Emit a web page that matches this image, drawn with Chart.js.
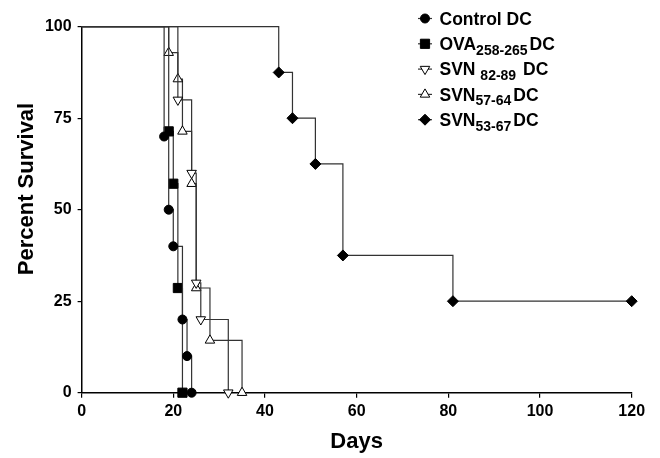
<!DOCTYPE html>
<html>
<head>
<meta charset="utf-8">
<script src="https://cdn.jsdelivr.net/npm/chart.js@4.4.0/dist/chart.umd.min.js"></script>
<style>
  html, body { margin: 0; padding: 0; background: #fff; }
  #wrap { width: 660px; height: 458px; }
</style>
</head>
<body>
<div id="wrap"><canvas id="survival" width="660" height="458"></canvas></div>
<script>
// Kaplan-Meier curves: day of death vs percent of mice still alive
const controlDays = [0, 18, 19, 20, 22, 23, 24];
const controlSurv = [100, 70, 50, 40, 20, 10, 0];
const ovaDays = [0, 19, 20, 21, 22];
const ovaSurv = [100, 71.4, 57.1, 28.6, 0];
const svn8289Days = [0, 21, 24, 25, 26, 32];
const svn8289Surv = [100, 80, 60, 30, 20, 0];
const svn5764Days = [0, 19, 21, 22, 24, 25, 28, 35];
const svn5764Surv = [100, 92.9, 85.7, 71.4, 57.1, 28.6, 14.3, 0];
const svn5367Days = [0, 43, 46, 51, 57, 81, 120];
const svn5367Surv = [100, 87.5, 75, 62.5, 37.5, 25, 25];

// legend labels are split so the peptide range can be set as a subscript
const legendMain = ["Control DC", "OVA", "SVN ", "SVN", "SVN"];
const legendSub = ["", "258-265", "82-89", "57-64", "53-67"];
const legendTail = ["", "DC", " DC", "DC", "DC"];

const xTicks = [0, 20, 40, 60, 80, 100, 120];
const yTicks = [0, 25, 50, 75, 100];

const FONT = "'Liberation Sans', Arial, Helvetica, sans-serif";

const markers = [
  { pointStyle: "circle", radius: 4.5, fill: "#000", rotation: 0 },
  { pointStyle: "rect", radius: 6.5, fill: "#000", rotation: 0 },
  { pointStyle: "triangle", radius: 5.5, fill: "#fff", rotation: 180 },
  { pointStyle: "triangle", radius: 5.5, fill: "#fff", rotation: 0 },
  { pointStyle: "rectRot", radius: 5.5, fill: "#000", rotation: 0 }
];

function toPoints(days, surv) {
  return days.map((d, i) => ({ x: d, y: surv[i] }));
}

const series = [
  toPoints(controlDays, controlSurv),
  toPoints(ovaDays, ovaSurv),
  toPoints(svn8289Days, svn8289Surv),
  toPoints(svn5764Days, svn5764Surv),
  toPoints(svn5367Days, svn5367Surv)
];

const datasets = series.map((pts, i) => ({
  label: legendMain[i] + legendSub[i] + legendTail[i],
  data: pts,
  stepped: "before",
  borderColor: "#333",
  borderWidth: 1.2,
  fill: false,
  clip: false,
  pointStyle: markers[i].pointStyle,
  rotation: markers[i].rotation,
  pointRadius: (ctx) => (ctx.dataIndex === 0 ? 0 : markers[i].radius),
  pointBackgroundColor: markers[i].fill,
  pointBorderColor: "#000",
  pointBorderWidth: 1
}));

// legend with subscripts plus the two axis titles
const decorations = {
  id: "decorations",
  afterDraw(chart) {
    const ctx = chart.ctx;
    ctx.save();
    ctx.fillStyle = "#000";
    ctx.textBaseline = "alphabetic";

    const lx = 425, tx = 439.5;
    for (let i = 0; i < legendMain.length; i++) {
      const y = 18.5 + i * 25.3;
      ctx.strokeStyle = "#333";
      ctx.lineWidth = 1.2;
      ctx.beginPath();
      ctx.moveTo(lx - 7, y);
      ctx.lineTo(lx + 7, y);
      ctx.stroke();
      ctx.fillStyle = markers[i].fill;
      ctx.strokeStyle = "#000";
      ctx.lineWidth = 1;
      Chart.helpers.drawPoint(ctx, {
        pointStyle: markers[i].pointStyle,
        rotation: markers[i].rotation,
        radius: markers[i].radius,
        borderWidth: 1
      }, lx, y);

      ctx.fillStyle = "#000";
      const base = y + 6.3;
      let x = tx;
      ctx.font = "bold 17.5px " + FONT;
      ctx.fillText(legendMain[i], x, base);
      x += ctx.measureText(legendMain[i]).width;
      if (legendSub[i]) {
        ctx.font = "bold 14px " + FONT;
        ctx.fillText(legendSub[i], x, base + 4.5);
        x += ctx.measureText(legendSub[i]).width + 2;
        ctx.font = "bold 17.5px " + FONT;
        ctx.fillText(legendTail[i], x, base);
      }
    }

    ctx.font = "bold 22px " + FONT;
    ctx.textAlign = "center";
    ctx.fillText("Days", (chart.chartArea.left + chart.chartArea.right) / 2, 448);

    ctx.translate(33, 189);
    ctx.rotate(-Math.PI / 2);
    ctx.fillText("Percent Survival", 0, 0);
    ctx.restore();
  }
};

const tickFont = { family: FONT, size: 16, weight: "bold" };

new Chart(document.getElementById("survival"), {
  type: "line",
  data: { datasets },
  plugins: [decorations],
  options: {
    responsive: false,
    animation: false,
    layout: { padding: { top: 26.7, right: 28.3, bottom: 0, left: 0 } },
    plugins: {
      legend: { display: false },
      tooltip: { enabled: false }
    },
    scales: {
      x: {
        type: "linear",
        min: 0,
        max: 120,
        afterBuildTicks: (s) => { s.ticks = xTicks.map((v) => ({ value: v })); },
        afterFit: (s) => { s.height = 65.3; },
        grid: { drawOnChartArea: false, drawTicks: true, tickLength: 5, color: "#000", lineWidth: 1.2 },
        border: { display: true, color: "#000", width: 1.5 },
        ticks: { color: "#000", font: tickFont, padding: 4, maxRotation: 0, autoSkip: false }
      },
      y: {
        type: "linear",
        min: 0,
        max: 100,
        afterBuildTicks: (s) => { s.ticks = yTicks.map((v) => ({ value: v })); },
        afterFit: (s) => { s.width = 81.6; },
        grid: { drawOnChartArea: false, drawTicks: true, tickLength: 4, color: "#000", lineWidth: 1.2 },
        border: { display: true, color: "#000", width: 1.5 },
        ticks: { color: "#000", font: tickFont, padding: 6, autoSkip: false }
      }
    }
  }
});
</script>
</body>
</html>
